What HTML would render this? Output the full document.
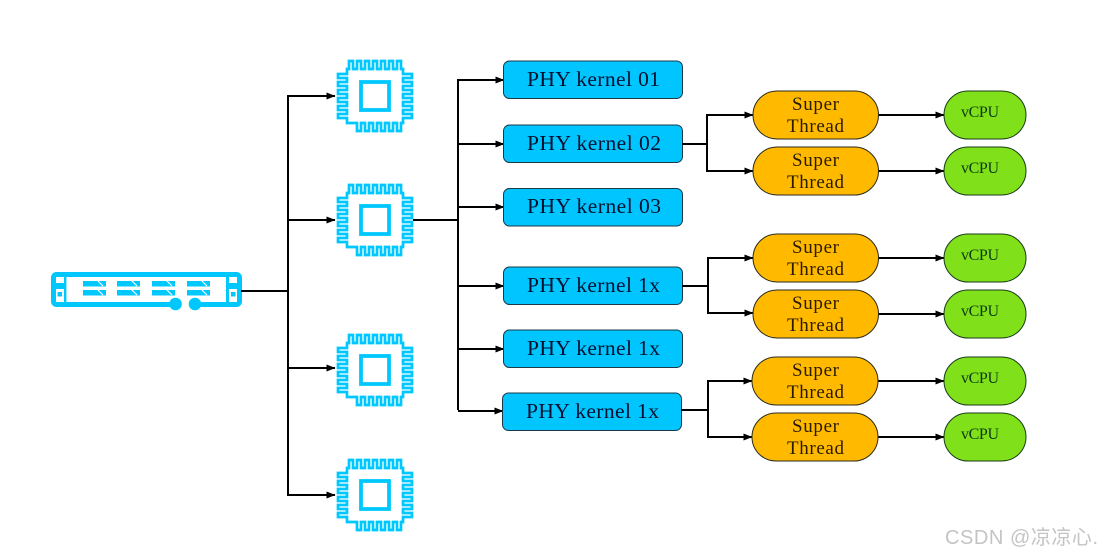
<!DOCTYPE html>
<html><head><meta charset="utf-8">
<style>
html,body{margin:0;padding:0;background:#fff}
svg{display:block}
.k{font-family:"Liberation Serif",serif;font-size:21.5px;fill:#00102e}
.s{font-family:"Liberation Serif",serif;font-size:19px;fill:#2a1a00}
.v{font-family:"Liberation Serif",serif;font-size:16px;fill:#0c3a10}
.b{fill:#00c5ff;stroke:#1c3a4a;stroke-width:1}
.p{fill:#ffba00;stroke:#2a2a1a;stroke-width:1}
.g{fill:#80e01a;stroke:#1a3a1a;stroke-width:1}
.l{fill:none;stroke:#000;stroke-width:2}
</style></head>
<body>
<svg width="1103" height="557" viewBox="0 0 1103 557" xmlns="http://www.w3.org/2000/svg">
<defs>
<marker id="a" markerUnits="userSpaceOnUse" markerWidth="9" markerHeight="8" refX="8.5" refY="4" orient="auto"><path d="M0,0.5L9,4L0,7.5z" fill="#000"/></marker>
<g id="chip">
<path fill="#fff" stroke="#00c8ff" stroke-width="2.7" d="M-26,-27V-35h4v8h4v-8h4v8h4v-8h4v8h4v-8h4v8h4v-8h4v8h4v-8h4v8h4v-8h4v8H28V-22H37v4H28v4H37v4H28v4H37v4H28v4H37v4H28v4H37v4H28v4H37v4H28V27H26V35h-4v-8h-4v8h-4v-8h-4v8h-4v-8h-4v8h-4v-8h-4v8h-4v-8h-4v8h-4v-8H-28V22H-37v-4H-28v-4H-37v-4H-28v-4H-37v-4H-28v-4H-37v-4H-28v-4H-37v-4H-28v-4H-37v-4H-28V-27z"/>
<rect x="-14" y="-14" width="28" height="28" fill="none" stroke="#00c8ff" stroke-width="3.8"/>
</g>
<g id="blk">
<rect x="0" y="0" width="23" height="5.500" fill="#00c8ff"/>
<rect x="0" y="9" width="23" height="5.500" fill="#00c8ff"/>
<path d="M14,-1L20,5M14,8L20,14" stroke="#fff" stroke-width="1.200"/>
</g>
</defs>

<!-- server -->
<rect x="53.500" y="274.500" width="186" height="30" rx="3" fill="#fff" stroke="#00c8ff" stroke-width="5"/>
<rect x="64" y="274" width="2.400" height="31" fill="#00c8ff"/>
<rect x="226" y="274" width="3" height="31" fill="#00c8ff"/>
<rect x="54" y="283" width="11" height="6" fill="#00c8ff"/>
<rect x="228" y="283" width="11" height="6" fill="#00c8ff"/>
<rect x="57.500" y="292" width="4.500" height="4.500" fill="#00c8ff"/>
<rect x="231" y="292" width="4.500" height="4.500" fill="#00c8ff"/>
<use href="#blk" x="83" y="281"/>
<use href="#blk" x="117" y="281"/>
<use href="#blk" x="152" y="281"/>
<use href="#blk" x="187" y="281"/>
<rect x="181" y="301" width="9" height="7" fill="#fff"/>
<circle cx="175.500" cy="304" r="6.300" fill="#00c8ff"/>
<circle cx="195" cy="304" r="6.300" fill="#00c8ff"/>

<!-- chips -->
<use href="#chip" x="375" y="96"/>
<use href="#chip" x="375" y="220"/>
<use href="#chip" x="375" y="370"/>
<use href="#chip" x="375" y="495"/>

<!-- server connectors -->
<path class="l" d="M241,291H288M288,95V496"/>
<path class="l" marker-end="url(#a)" d="M288,96H335"/>
<path class="l" marker-end="url(#a)" d="M288,220H335"/>
<path class="l" marker-end="url(#a)" d="M288,368H335"/>
<path class="l" marker-end="url(#a)" d="M288,495H335"/>

<!-- chip 2 connectors -->
<path class="l" d="M413,220H458M458,79V410"/>
<path class="l" marker-end="url(#a)" d="M458,80H504"/>
<path class="l" marker-end="url(#a)" d="M458,144H504"/>
<path class="l" marker-end="url(#a)" d="M458,207H504"/>
<path class="l" marker-end="url(#a)" d="M458,286H504"/>
<path class="l" marker-end="url(#a)" d="M458,349H504"/>
<path class="l" marker-end="url(#a)" d="M458,411H503"/>

<!-- kernel boxes -->
<rect class="b" x="503.500" y="61" width="179" height="37.500" rx="6"/>
<rect class="b" x="503.500" y="125" width="179" height="37.500" rx="6"/>
<rect class="b" x="503.500" y="188.500" width="179" height="37.500" rx="6"/>
<rect class="b" x="503.500" y="267" width="179" height="37.500" rx="6"/>
<rect class="b" x="503.500" y="330" width="179" height="37.500" rx="6"/>
<rect class="b" x="502.500" y="393" width="179" height="37.500" rx="6"/>
<text class="k" x="527" y="86" textLength="133">PHY kernel 01</text>
<text class="k" x="527" y="150" textLength="134">PHY kernel 02</text>
<text class="k" x="527" y="213" textLength="134">PHY kernel 03</text>
<text class="k" x="527" y="292" textLength="133">PHY kernel 1x</text>
<text class="k" x="527" y="355" textLength="133">PHY kernel 1x</text>
<text class="k" x="526" y="418" textLength="133">PHY kernel 1x</text>

<!-- branches -->
<path class="l" d="M682,144H707M707,114V172"/>
<path class="l" marker-end="url(#a)" d="M708,115H753"/>
<path class="l" marker-end="url(#a)" d="M707,171H753"/>
<path class="l" d="M682,286H708M708,257V314"/>
<path class="l" marker-end="url(#a)" d="M708,258H753"/>
<path class="l" marker-end="url(#a)" d="M708,313H753"/>
<path class="l" d="M681,410H708M708,380V438"/>
<path class="l" marker-end="url(#a)" d="M708,381H752"/>
<path class="l" marker-end="url(#a)" d="M708,437H752"/>

<path class="l" marker-end="url(#a)" d="M878,115H944"/>
<path class="l" marker-end="url(#a)" d="M878,171H944"/>
<path class="l" marker-end="url(#a)" d="M878,258H944"/>
<path class="l" marker-end="url(#a)" d="M878,314H944"/>
<path class="l" marker-end="url(#a)" d="M878,381H944"/>
<path class="l" marker-end="url(#a)" d="M878,437H944"/>

<!-- pills -->
<rect class="p" x="753" y="91" width="125.500" height="48" rx="24"/>
<rect class="p" x="753" y="147" width="125.500" height="48" rx="24"/>
<rect class="p" x="753" y="234" width="125.500" height="48" rx="24"/>
<rect class="p" x="753" y="290" width="125.500" height="48" rx="24"/>
<rect class="p" x="752" y="357" width="126" height="48" rx="24"/>
<rect class="p" x="752" y="413" width="126" height="48" rx="24"/>

<text class="s" x="792" y="110" textLength="47">Super</text><text class="s" x="787" y="132" textLength="57">Thread</text>
<text class="s" x="792" y="166" textLength="47">Super</text><text class="s" x="787" y="188" textLength="57">Thread</text>
<text class="s" x="792" y="253" textLength="47">Super</text><text class="s" x="787" y="275" textLength="57">Thread</text>
<text class="s" x="792" y="309" textLength="47">Super</text><text class="s" x="787" y="331" textLength="57">Thread</text>
<text class="s" x="792" y="376" textLength="47">Super</text><text class="s" x="787" y="398" textLength="57">Thread</text>
<text class="s" x="792" y="432" textLength="47">Super</text><text class="s" x="787" y="454" textLength="57">Thread</text>

<!-- vCPU -->
<rect class="g" x="944" y="91" width="82" height="48" rx="24"/>
<rect class="g" x="944" y="147" width="82" height="48" rx="24"/>
<rect class="g" x="944" y="234" width="82" height="48" rx="24"/>
<rect class="g" x="944" y="290" width="82" height="48" rx="24"/>
<rect class="g" x="944" y="357" width="82" height="48" rx="24"/>
<rect class="g" x="944" y="413" width="82" height="48" rx="24"/>
<text class="v" x="961" y="117" textLength="38">vCPU</text>
<text class="v" x="961" y="173" textLength="38">vCPU</text>
<text class="v" x="961" y="260" textLength="38">vCPU</text>
<text class="v" x="961" y="316" textLength="38">vCPU</text>
<text class="v" x="961" y="383" textLength="38">vCPU</text>
<text class="v" x="961" y="439" textLength="38">vCPU</text>

<text x="945" y="544" font-family="'Liberation Sans','Noto Sans CJK SC',sans-serif" font-size="20" fill="#c4c4c4" textLength="153">CSDN @凉凉心.</text>
</svg>
</body></html>
